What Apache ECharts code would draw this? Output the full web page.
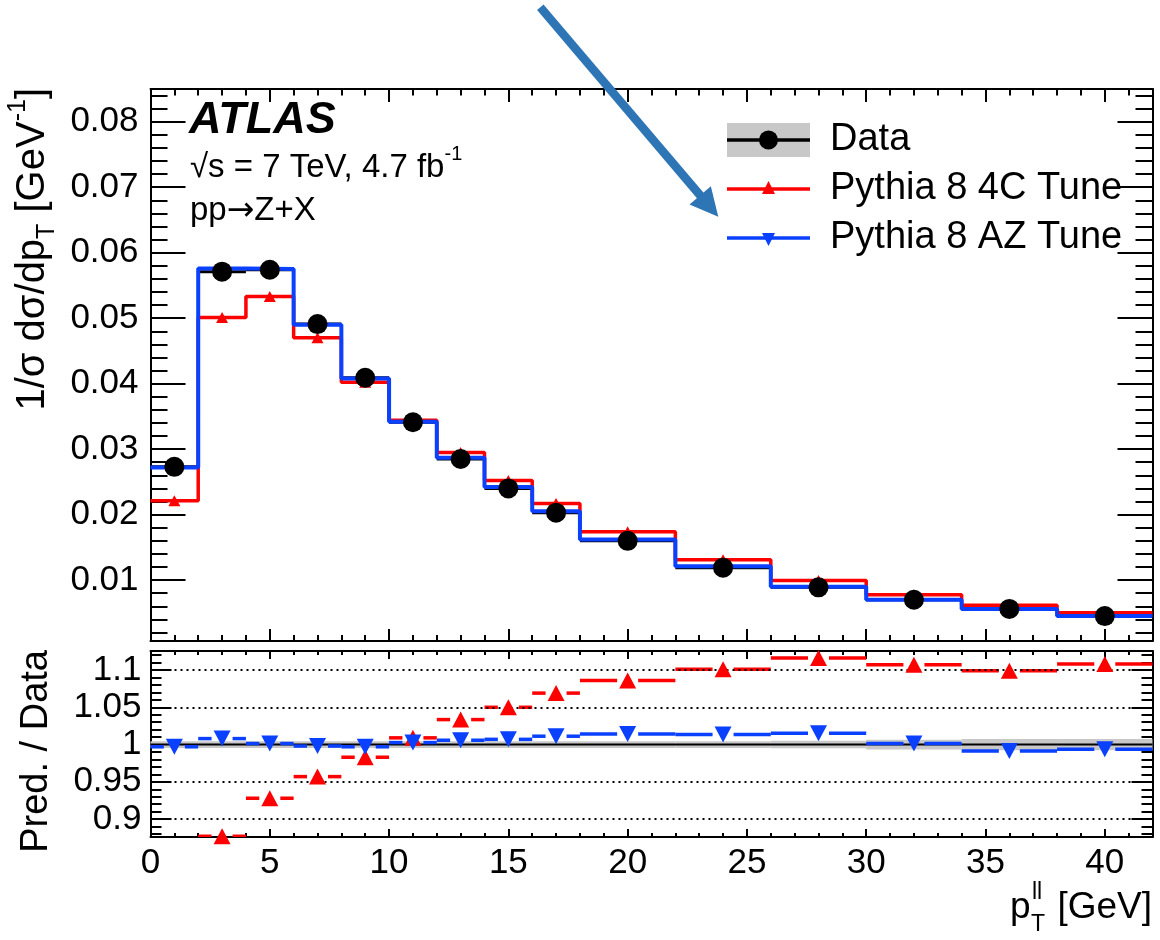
<!DOCTYPE html>
<html>
<head>
<meta charset="utf-8">
<script src="https://cdn.jsdelivr.net/npm/echarts@6/dist/echarts.min.js"></script>
<style>
html,body{margin:0;padding:0;background:#ffffff;}
#chart{width:1160px;height:940px;}
</style>
</head>
<body>
<div id="chart"></div>
<script>
// ---------------- data ----------------
const binEdges = [0, 2, 4, 6, 8, 10, 12, 14, 16, 18, 22, 26, 30, 34, 38, 42];
const dataValues = [0.0273, 0.0571, 0.0574, 0.0491, 0.0409, 0.0341, 0.0285, 0.0240, 0.0203, 0.0160, 0.0119, 0.0089, 0.0070, 0.0056, 0.0045];
const dataRelErr = [0.0045, 0.0045, 0.0045, 0.0045, 0.0045, 0.0045, 0.0045, 0.0045, 0.0045, 0.0045, 0.0045, 0.005, 0.0065, 0.0075, 0.0075];
const pythia4C = [0.0221, 0.0501, 0.0533, 0.0470, 0.0402, 0.0344, 0.0295, 0.0252, 0.0217, 0.0174, 0.0131, 0.00993, 0.00775, 0.00615, 0.0050];
const pythiaAZ = [0.0272, 0.0576, 0.0575, 0.0490, 0.0408, 0.0342, 0.0287, 0.0242, 0.0205, 0.0162, 0.0121, 0.0090, 0.0070, 0.0056, 0.0045];
const ratio4C = [0.81, 0.877, 0.928, 0.957, 0.983, 1.009, 1.0335, 1.05, 1.069, 1.086, 1.101, 1.116, 1.107, 1.099, 1.108];
const ratioAZ = [0.997, 1.008, 1.0014, 0.998, 0.997, 1.0027, 1.0058, 1.007, 1.0112, 1.0143, 1.0135, 1.0152, 1.0014, 0.9915, 0.9938];

const xTickValues = [0, 5, 10, 15, 20, 25, 30, 35, 40];
const xTickLabels = ['0', '5', '10', '15', '20', '25', '30', '35', '40'];
const yMainTickValues = [0.01, 0.02, 0.03, 0.04, 0.05, 0.06, 0.07, 0.08];
const yMainTickLabels = ['0.01', '0.02', '0.03', '0.04', '0.05', '0.06', '0.07', '0.08'];
const yRatioTickValues = [0.9, 0.95, 1, 1.05, 1.1];
const yRatioTickLabels = ['0.9', '0.95', '1', '1.05', '1.1'];
const yRatioGridValues = [0.9, 0.95, 1.05, 1.1];

const legendNames = ['Data', 'Pythia 8 4C Tune', 'Pythia 8 AZ Tune'];

// ---------------- helpers ----------------
const FONT = '"Liberation Sans", Arial, Helvetica, sans-serif';
const RED = '#ff0000';
const BLUE = '#0a40ff';
const GREY = '#c8c8c8';
const X_MIN = 0, X_MAX = 42;
const Y_MIN = 0.0007, Y_MAX = 0.085;
const R_MIN = 0.876, R_MAX = 1.1255;

function minorList(from, to, step, skipEvery) {
  const out = [];
  const n = Math.round((to - from) / step);
  for (let i = 0; i <= n; i++) {
    const k = Math.round(from / step) + i;
    if (k % skipEvery === 0) continue;
    out.push(+(k * step).toFixed(6));
  }
  return out;
}
const xMinor = minorList(0, 42, 1, 5);
const yMainMinor = minorList(0.002, 0.084, 0.002, 5);
const yRatioMinor = minorList(0.88, 1.12, 0.01, 5);

function mkAxis(kind, gridIndex, position, ticks, len, extra) {
  const isX = kind === 'x';
  const a = {
    type: 'value', gridIndex: gridIndex, position: position,
    min: isX ? X_MIN : (gridIndex === 0 ? Y_MIN : R_MIN),
    max: isX ? X_MAX : (gridIndex === 0 ? Y_MAX : R_MAX),
    axisLine: {show: false, onZero: false, lineStyle: {color: '#000', width: 2}},
    axisTick: {show: true, inside: true, length: len, customValues: ticks, lineStyle: {color: '#000', width: 2}},
    axisLabel: {show: false},
    splitLine: {show: false},
    minorTick: {show: false},
    minorSplitLine: {show: false},
    silent: true
  };
  if (extra && extra.line) a.axisLine.show = true;
  if (extra && extra.label) a.axisLabel = extra.label;
  return a;
}

const labelStyle = {fontFamily: FONT, fontSize: 35, color: '#000'};

const xAxes = [
  mkAxis('x', 0, 'bottom', xTickValues, 12, {line: true}),
  mkAxis('x', 0, 'bottom', xMinor, 6),
  mkAxis('x', 0, 'top', xTickValues, 13, {line: true}),
  mkAxis('x', 0, 'top', xMinor, 6.5),
  mkAxis('x', 1, 'bottom', xTickValues, 8, {line: true, label: Object.assign({
    show: true, margin: 9, customValues: xTickValues,
    formatter: function (v) { const i = xTickValues.indexOf(+v); return i >= 0 ? xTickLabels[i] : ''; }
  }, labelStyle)}),
  mkAxis('x', 1, 'bottom', xMinor, 4),
  mkAxis('x', 1, 'top', xTickValues, 8, {line: true}),
  mkAxis('x', 1, 'top', xMinor, 4)
];
const yAxes = [
  mkAxis('y', 0, 'left', yMainTickValues, 35, {line: true, label: Object.assign({
    show: true, margin: 12, customValues: yMainTickValues,
    formatter: function (v) { const i = yMainTickValues.findIndex(t => Math.abs(t - v) < 1e-9); return i >= 0 ? yMainTickLabels[i] : ''; }
  }, labelStyle)}),
  mkAxis('y', 0, 'left', yMainMinor, 17),
  mkAxis('y', 0, 'right', yMainTickValues, 35, {line: true}),
  mkAxis('y', 0, 'right', yMainMinor, 17),
  mkAxis('y', 1, 'left', yRatioTickValues, 21, {line: true, label: Object.assign({
    show: true, margin: 9, customValues: yRatioTickValues,
    formatter: function (v) { const i = yRatioTickValues.findIndex(t => Math.abs(t - v) < 1e-9); return i >= 0 ? yRatioTickLabels[i] : ''; }
  }, labelStyle)}),
  mkAxis('y', 1, 'left', yRatioMinor, 11),
  mkAxis('y', 1, 'right', yRatioTickValues, 21, {line: true}),
  mkAxis('y', 1, 'right', yRatioMinor, 11)
];

function stepData(values) {
  const pts = values.map((v, i) => [binEdges[i], v]);
  pts.push([binEdges[binEdges.length - 1], values[values.length - 1]]);
  return pts;
}
const binCenters = dataValues.map((v, i) => (binEdges[i] + binEdges[i + 1]) / 2);

// data error bars (top panel)
const dataBarData = dataValues.map((v, i) => [binEdges[i], binEdges[i + 1], v, v * dataRelErr[i]]);
// ratio band
const bandData = dataRelErr.map((e, i) => [binEdges[i], binEdges[i + 1], 1 + e, 1 - e]);

function ratioDashSeries(ratios, color, z) {
  return {
    type: 'custom', xAxisIndex: 4, yAxisIndex: 4, clip: true, z: z, silent: true,
    data: ratios.map((r, i) => [binEdges[i], binEdges[i + 1], r]),
    encode: {x: [0, 1], y: 2},
    renderItem: function (params, api) {
      const lo = api.value(0), hi = api.value(1), r = api.value(2);
      const a = api.coord([lo, r]), b = api.coord([hi, r]), m = api.coord([(lo + hi) / 2, r]);
      const gap = 10.5;
      const st = {stroke: color, lineWidth: 3.5};
      return {type: 'group', children: [
        {type: 'line', shape: {x1: a[0], y1: a[1], x2: m[0] - gap, y2: m[1]}, style: st},
        {type: 'line', shape: {x1: m[0] + gap, y1: m[1], x2: b[0], y2: b[1]}, style: st}
      ]};
    }
  };
}

const series = [
  // ---- top panel ----
  {
    type: 'custom', xAxisIndex: 0, yAxisIndex: 0, z: 2, silent: true, clip: true,
    data: dataBarData, encode: {x: [0, 1], y: 2},
    renderItem: function (params, api) {
      const lo = api.value(0), hi = api.value(1), v = api.value(2), e = api.value(3);
      const c = (lo + hi) / 2;
      const a = api.coord([lo, v]), b = api.coord([hi, v]);
      const u = api.coord([c, v + e]), d = api.coord([c, v - e]);
      const st = {stroke: '#000', lineWidth: 3};
      return {type: 'group', children: [
        {type: 'line', shape: {x1: a[0], y1: a[1], x2: b[0], y2: b[1]}, style: st},
        {type: 'line', shape: {x1: u[0], y1: u[1], x2: d[0], y2: d[1]}, style: st}
      ]};
    }
  },
  {
    name: legendNames[1], type: 'line', xAxisIndex: 0, yAxisIndex: 0, step: 'end', z: 3,
    data: stepData(pythia4C), symbol: 'none', silent: true,
    lineStyle: {color: RED, width: 3.5}
  },
  {
    type: 'scatter', xAxisIndex: 0, yAxisIndex: 0, z: 4, silent: true,
    data: pythia4C.map((v, i) => [binCenters[i], v]),
    symbol: 'triangle', symbolSize: [12, 11], itemStyle: {color: RED, opacity: 1}
  },
  {
    name: legendNames[2], type: 'line', xAxisIndex: 0, yAxisIndex: 0, step: 'end', z: 5,
    data: stepData(pythiaAZ), symbol: 'none', silent: true,
    lineStyle: {color: BLUE, width: 4}
  },
  {
    name: legendNames[0], type: 'scatter', xAxisIndex: 0, yAxisIndex: 0, z: 6, silent: true,
    data: dataValues.map((v, i) => [binCenters[i], v]),
    symbol: 'circle', symbolSize: 20, itemStyle: {color: '#000', opacity: 1}
  },
  // ---- ratio panel ----
  {
    type: 'line', xAxisIndex: 4, yAxisIndex: 4, z: 1, silent: true,
    data: [[X_MIN, 1], [X_MAX, 1]], symbol: 'none', lineStyle: {opacity: 0},
    markLine: {
      silent: true, symbol: 'none', animation: false,
      label: {show: false},
      lineStyle: {color: '#000', width: 2, type: [2, 4]},
      data: yRatioGridValues.map(v => ({yAxis: v}))
    }
  },
  {
    type: 'custom', xAxisIndex: 4, yAxisIndex: 4, z: 2, silent: true, clip: true,
    data: bandData, encode: {x: [0, 1], y: [2, 3]},
    renderItem: function (params, api) {
      const p1 = api.coord([api.value(0), api.value(2)]);
      const p2 = api.coord([api.value(1), api.value(3)]);
      return {type: 'rect', shape: {x: p1[0], y: p1[1], width: p2[0] - p1[0], height: p2[1] - p1[1]}, style: {fill: GREY}};
    }
  },
  {
    type: 'line', xAxisIndex: 4, yAxisIndex: 4, z: 3, silent: true,
    data: [[X_MIN, 1], [X_MAX, 1]], symbol: 'none', lineStyle: {color: '#000', width: 2}
  },
  ratioDashSeries(ratio4C, RED, 4),
  {
    type: 'scatter', xAxisIndex: 4, yAxisIndex: 4, z: 5, silent: true,
    data: ratio4C.map((r, i) => [binCenters[i], r]),
    symbol: 'triangle', symbolSize: [17, 16], itemStyle: {color: RED, opacity: 1}
  },
  ratioDashSeries(ratioAZ, BLUE, 6),
  {
    type: 'scatter', xAxisIndex: 4, yAxisIndex: 4, z: 7, silent: true,
    data: ratioAZ.map((r, i) => [binCenters[i], r]),
    symbol: 'triangle', symbolRotate: 180, symbolSize: [17, 16], itemStyle: {color: BLUE, opacity: 1}
  }
];

// ---------------- annotations ----------------
function arrowShapes(x0, y0, x1, y1, shaft, headLen, headHalf, color) {
  const dx = x1 - x0, dy = y1 - y0, L = Math.sqrt(dx * dx + dy * dy);
  const ux = dx / L, uy = dy / L, nx = -uy, ny = ux;
  const bx = x1 - headLen * ux, by = y1 - headLen * uy;
  return [
    {type: 'line', silent: true, shape: {x1: x0, y1: y0, x2: bx + ux, y2: by + uy}, style: {stroke: color, lineWidth: shaft, lineCap: 'butt'}, z: 100},
    {type: 'polygon', silent: true, shape: {points: [[x1, y1], [bx + headHalf * nx, by + headHalf * ny], [bx - headHalf * nx, by - headHalf * ny]]}, style: {fill: color}, z: 100}
  ];
}

function rich(size) {
  return {
    n: {fontFamily: FONT, fontSize: size, lineHeight: size + 14, verticalAlign: 'middle', fill: '#000'},
    sup: {fontFamily: FONT, fontSize: Math.round(size * 0.62), lineHeight: Math.round(size * 0.62), verticalAlign: 'top', fill: '#000'},
    sub: {fontFamily: FONT, fontSize: Math.round(size * 0.62), lineHeight: Math.round(size * 0.62), verticalAlign: 'bottom', fill: '#000'},
    ar: {fontFamily: '"DejaVu Sans", sans-serif', fontSize: size, lineHeight: size + 14, verticalAlign: 'middle', fill: '#000'}
  };
}

const legendX0 = 727, legendX1 = 810, legendXm = 768.5, legendTextX = 830;
const legendY = [140, 189, 238];

const graphics = [
  // header texts
  {type: 'text', x: 189, y: 121, silent: true, style: {text: 'ATLAS', fontFamily: FONT, fontSize: 45, fontWeight: 'bold', fontStyle: 'italic', fill: '#000', verticalAlign: 'middle', align: 'left'}},
  {type: 'text', x: 190, y: 168, silent: true, style: {text: '{n|√s = 7 TeV, 4.7 fb}{sup|-1}', rich: rich(33), verticalAlign: 'middle', align: 'left'}},
  {type: 'text', x: 190, y: 211, silent: true, style: {text: '{n|pp}{ar|→}{n|Z+X}', rich: rich(33), verticalAlign: 'middle', align: 'left'}},
  // y titles
  {type: 'text', x: 33, y: 88, rotation: Math.PI / 2, silent: true, style: {text: '{n|1/σ dσ/dp}{sub|T}{n| [GeV}{sup|-1}{n|]}', rich: rich(40), verticalAlign: 'middle', align: 'right'}},
  {type: 'text', x: 37, y: 650, rotation: Math.PI / 2, silent: true, style: {text: 'Pred. / Data', fontFamily: FONT, fontSize: 38, fill: '#000', verticalAlign: 'middle', align: 'right'}},
  // x title
  {type: 'text', x: 1152, y: 908, silent: true, style: {text: '[GeV]', fontFamily: FONT, fontSize: 37, fill: '#000', verticalAlign: 'middle', align: 'right'}},
  {type: 'text', x: 1010, y: 908, silent: true, style: {text: 'p', fontFamily: FONT, fontSize: 37, fill: '#000', verticalAlign: 'middle', align: 'left'}},
  {type: 'text', x: 1032, y: 893, silent: true, style: {text: 'll', fontFamily: FONT, fontSize: 23, fill: '#000', verticalAlign: 'middle', align: 'left'}},
  {type: 'text', x: 1031, y: 925, silent: true, style: {text: 'T', fontFamily: FONT, fontSize: 23, fill: '#000', verticalAlign: 'middle', align: 'left'}},
  // legend: Data
  {type: 'rect', silent: true, shape: {x: legendX0, y: legendY[0] - 17, width: legendX1 - legendX0, height: 34}, style: {fill: GREY}},
  {type: 'line', silent: true, shape: {x1: legendX0, y1: legendY[0], x2: legendX1, y2: legendY[0]}, style: {stroke: '#000', lineWidth: 3.5}},
  {type: 'circle', silent: true, shape: {cx: legendXm, cy: legendY[0], r: 9.5}, style: {fill: '#000'}},
  {type: 'text', x: legendTextX, y: legendY[0], silent: true, style: {text: legendNames[0], fontFamily: FONT, fontSize: 38, fill: '#000', verticalAlign: 'middle'}},
  // legend: 4C
  {type: 'line', silent: true, shape: {x1: legendX0, y1: legendY[1], x2: legendX1, y2: legendY[1]}, style: {stroke: RED, lineWidth: 3.5}},
  {type: 'polygon', silent: true, shape: {points: [[legendXm, legendY[1] - 8], [legendXm - 6.5, legendY[1] + 5], [legendXm + 6.5, legendY[1] + 5]]}, style: {fill: RED}},
  {type: 'text', x: legendTextX, y: legendY[1], silent: true, style: {text: legendNames[1], fontFamily: FONT, fontSize: 38, fill: '#000', verticalAlign: 'middle'}},
  // legend: AZ
  {type: 'line', silent: true, shape: {x1: legendX0, y1: legendY[2], x2: legendX1, y2: legendY[2]}, style: {stroke: BLUE, lineWidth: 3.5}},
  {type: 'polygon', silent: true, shape: {points: [[legendXm, legendY[2] + 8], [legendXm - 6.5, legendY[2] - 5], [legendXm + 6.5, legendY[2] - 5]]}, style: {fill: BLUE}},
  {type: 'text', x: legendTextX, y: legendY[2], silent: true, style: {text: legendNames[2], fontFamily: FONT, fontSize: 38, fill: '#000', verticalAlign: 'middle'}}
].concat(arrowShapes(540.3, 7.2, 718.3, 216.7, 8.5, 28, 14, '#2e75b6'));

const option = {
  animation: false,
  backgroundColor: '#ffffff',
  textStyle: {fontFamily: FONT},
  grid: [
    {left: 150.5, top: 89, width: 1002, height: 552, containLabel: false},
    {left: 150.5, top: 651, width: 1002, height: 186, containLabel: false}
  ],
  xAxis: xAxes,
  yAxis: yAxes,
  series: series,
  graphic: graphics
};

const chart = echarts.init(document.getElementById('chart'), null, {renderer: 'canvas', width: 1160, height: 940});
chart.setOption(option);
</script>
</body>
</html>
